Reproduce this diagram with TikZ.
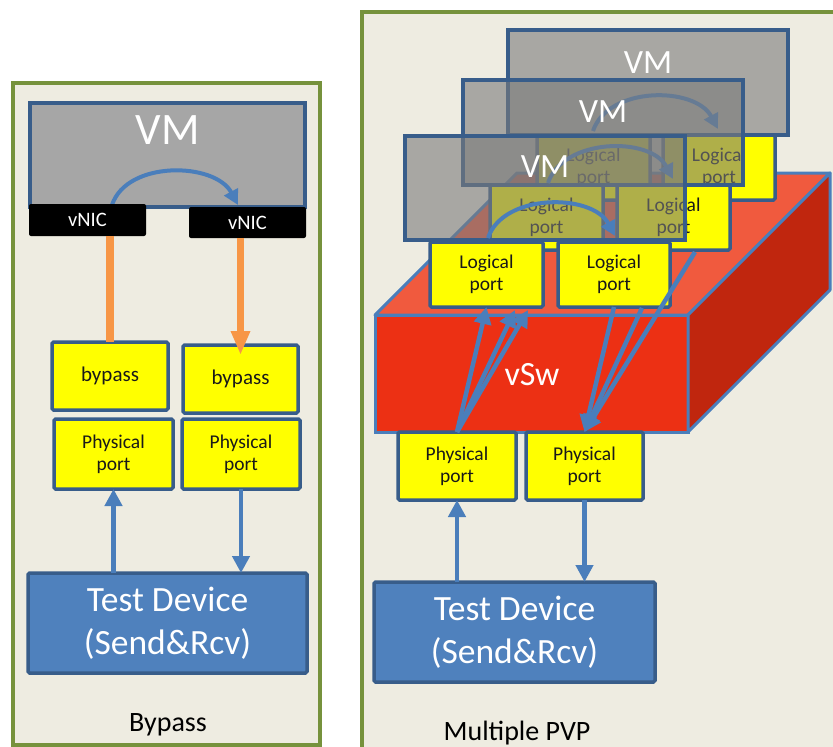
\documentclass[tikz,border=0pt]{standalone}
\usepackage{fontspec}
\setmainfont{Carlito}
\usetikzlibrary{arrows.meta,calc}
\definecolor{panelbg}{HTML}{EEECE1}
\definecolor{panelgreen}{HTML}{76923C}
\definecolor{boxblue}{HTML}{385D8A}
\definecolor{arrowblue}{HTML}{4A7EBB}
\definecolor{tdfill}{HTML}{4F81BD}
\definecolor{vmgrayL}{HTML}{A6A6A6}
\definecolor{vmgrayR}{HTML}{7A7A7A}
\definecolor{swfront}{HTML}{EC3014}
\definecolor{swtop}{HTML}{F05A3E}
\definecolor{swside}{HTML}{C0260E}
\definecolor{orangeline}{HTML}{F79646}
\definecolor{boxyellow}{HTML}{FFFF00}
\begin{document}
\begin{tikzpicture}[x=1pt,y=-1pt,
  every node/.style={inner sep=0pt, outer sep=0pt, align=center},
  sz/.style 2 args={minimum width=#1pt, minimum height=#2pt},
  panel/.style={fill=panelbg, draw=panelgreen, line width=4pt},
  vmboxL/.style={draw=boxblue, line width=4pt, fill=vmgrayL},
  vmboxR/.style={draw=boxblue, line width=4pt, fill=vmgrayR, fill opacity=0.6, draw opacity=1},
  vmtext/.style={text=white},
  nic/.style={fill=black, text=white, rounded corners=2pt, font=\fontsize{20.5}{20}\selectfont},
  port/.style={draw=boxblue, line width=3.5pt, fill=boxyellow, rounded corners=1.5pt, text=black!90,
               font=\fontsize{19.5}{22}\selectfont},
  tdbox/.style={draw=boxblue, line width=3.5pt, fill=tdfill, rounded corners=1.5pt, text=white,
               font=\fontsize{35.5}{43}\selectfont},
  swface/.style={draw=arrowblue, line width=3pt, line join=round},
  vmarc/.style={draw=arrowblue, line width=4pt, -{Triangle[length=15pt,width=15pt]}},
  blarrow/.style={draw=arrowblue, line width=4.5pt, -{Triangle[length=17pt,width=17pt]}},
  orline/.style={draw=orangeline, line width=7.5pt},
  caption/.style={text=black, font=\fontsize{28}{28}\selectfont}
]
\useasboundingbox (0,0) rectangle (833,747);
\clip (0,0) rectangle (833,747);
\fill[white] (0,0) rectangle (833,747);

% ---------------- panels ----------------
\draw[panel] (13,83) rectangle (320,745);
\draw[panel] (362,12) rectangle (860,780);

% ---------------- left: Bypass ----------------
\node[vmboxL, sz={275}{104}] (vmL) at (167.5,155) {};
\node[vmtext, font=\fontsize{45}{45}\selectfont] (vmLt) at (167.5,130) {VM};
\draw[vmarc] ($(vmL.south west)+(82,-2)$) .. controls +(15,-45) and +(-23,-43) .. ($(vmL.south west)+(208,-2)$);
\node[nic, sz={117}{32}] (nicL) at (87.5,220) {vNIC};
\node[nic, sz={117}{31}] (nicR) at (247.5,222.5) {vNIC};

\node[port, sz={116}{68}, font=\fontsize{21}{21}\selectfont] (bypL) at (110,376) {bypass};
\node[port, sz={115}{68}, font=\fontsize{21}{21}\selectfont] (bypR) at (240.5,379) {bypass};
\draw[orline] (bypL.north |- nicL.south) -- (bypL.north);
\draw[orline, -{Triangle[length=24pt,width=18pt]}, shorten >=-10pt] (bypR.north |- nicR.south) -- (bypR.north);

\node[port, sz={119}{70}] (phyL) at (113.5,454) {Physical\\port};
\node[port, sz={118}{70}] (phyR) at (241,454) {Physical\\port};
\node[tdbox, sz={279}{100}] (tdL) at (167.5,623) {Test Device\\(Send\&Rcv)};
\draw[blarrow] (phyL.south |- tdL.north) -- (phyL.south);
\draw[blarrow] (phyR.south) -- (phyR.south |- tdL.north);
\node[caption] (capL) at (168,725) {Bypass};

% ---------------- right: Multiple PVP ----------------
\node[draw=arrowblue, line width=3pt, fill=swfront, sz={313}{117}] (vsw) at (531.5,373.5) {};
\filldraw[swface, fill=swtop] (vsw.north west) -- ++(142,-142) -- ++(313,0) -- (vsw.north east) -- cycle;
\filldraw[swface, fill=swside] (vsw.north east) -- ++(142,-142) -- ++(0,117) -- (vsw.south east) -- cycle;
\node[text=white, font=\fontsize{34}{34}\selectfont] (vswt) at (532,375) {vSw};

% back layer
\node[port, sz={113}{65}] (bl1) at (593.5,167.5) {Logical\\port};
\node[port, sz={112}{65}] (bl2) at (719,167.5) {Logical\\port};
\node[vmboxR, sz={280}{105}] (vm3) at (648,82.5) {};
\node[vmtext, font=\fontsize{34}{34}\selectfont] (vm3t) at (648,63) {VM};
\draw[vmarc] ($(vm3.south west)+(85,-4)$) .. controls +(15,-45) and +(-23,-43) .. ($(vm3.south west)+(210,-6)$);

% middle layer
\node[port, sz={113}{65}] (ml1) at (546.5,217.5) {Logical\\port};
\node[port, sz={113}{65}] (ml2) at (673.5,217.5) {Logical\\port};
\node[vmboxR, sz={280}{105}] (vm2) at (603,132.5) {};
\node[vmtext, font=\fontsize{34}{34}\selectfont] (vm2t) at (603,112) {VM};
\draw[vmarc] ($(vm2.south west)+(85,-2)$) .. controls +(15,-45) and +(-23,-43) .. ($(vm2.south west)+(210,-6)$);

% front layer
\node[port, sz={113}{65}] (fl1) at (486.5,274.5) {Logical\\port};
\node[port, sz={112}{65}] (fl2) at (614,274.5) {Logical\\port};
\node[vmboxR, sz={280}{104}] (vm1) at (545,188) {};
\node[vmtext, font=\fontsize{34}{34}\selectfont] (vm1t) at (545,167) {VM};
\draw[vmarc] ($(vm1.south west)+(83,-2)$) .. controls +(15,-45) and +(-23,-43) .. ($(vm1.south west)+(210,-4)$);

% physical ports and test device
\node[port, sz={118}{68}] (pr1) at (457,466) {Physical\\port};
\node[port, sz={117}{68}] (pr2) at (584.5,466) {Physical\\port};
\node[tdbox, sz={281}{100}] (tdR) at (514.5,632) {Test Device\\(Send\&Rcv)};

% switch paths
\coordinate (ml1end) at (515,310);
\coordinate (bl1end) at (528,310);
\coordinate (ml2start) at (642,308);
\coordinate (bl2start) at (695,252);
\draw[blarrow] (pr1.north) -- (fl1.south);
\draw[blarrow] (pr1.north) -- (ml1end);
\draw[blarrow] (pr1.north) -- (bl1end);
\draw[blarrow] (fl2.south) -- (pr2.north);
\draw[blarrow] (ml2start) -- (pr2.north);
\draw[blarrow] (bl2start) -- (pr2.north);

\draw[blarrow] (pr1.south |- tdR.north) -- (pr1.south);
\draw[blarrow] (pr2.south) -- (pr2.south |- tdR.north);
\node[caption] (capR) at (517,733) {Multiple PVP};
\end{tikzpicture}
\end{document}
